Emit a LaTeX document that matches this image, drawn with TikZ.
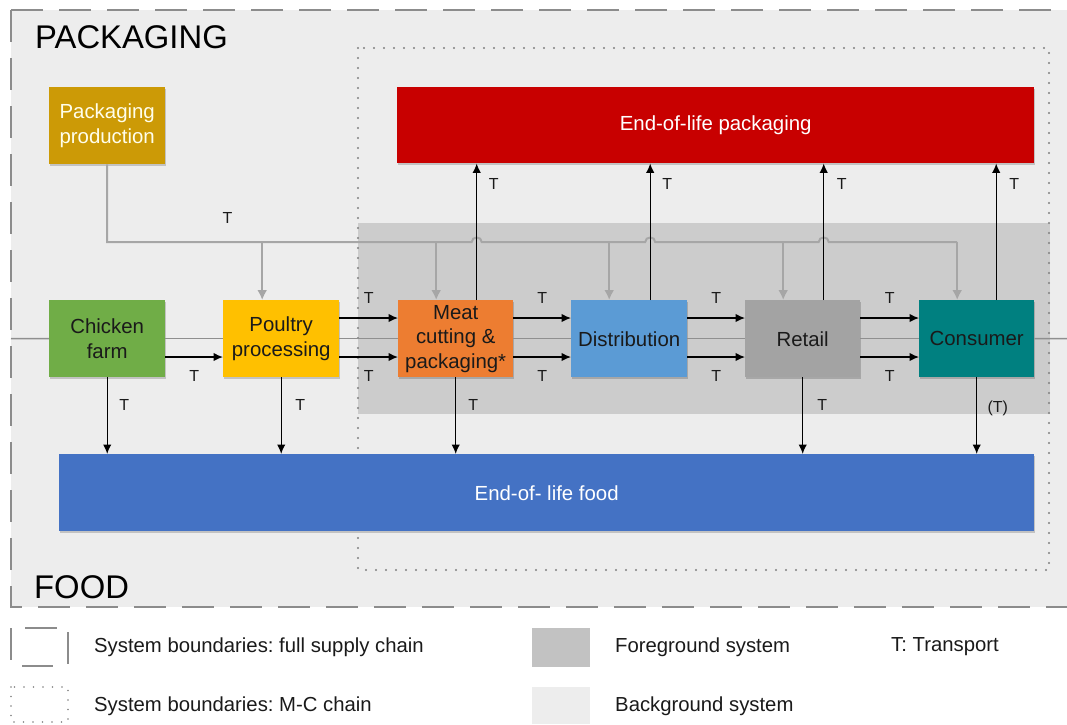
\documentclass[tikz,border=0pt]{standalone}
\usepackage{fontspec}
\setmainfont{Liberation Sans}
\usetikzlibrary{arrows.meta,calc,shadows}
\frenchspacing

\definecolor{bgsys}{HTML}{EDEDED}
\definecolor{fgsys}{HTML}{CCCCCC}
\definecolor{bound}{HTML}{8C8C8C}
\definecolor{dots}{HTML}{808080}
\definecolor{feed}{HTML}{A6A6A6}
\definecolor{midgray}{HTML}{8F8F8F}
\definecolor{pkgprod}{HTML}{CC9A06}
\definecolor{farm}{HTML}{70AD47}
\definecolor{poultryc}{HTML}{FFC000}
\definecolor{meatc}{HTML}{ED7D31}
\definecolor{distc}{HTML}{5B9BD5}
\definecolor{retailc}{HTML}{A3A3A3}
\definecolor{consc}{HTML}{008080}
\definecolor{eolpk}{HTML}{C80000}
\definecolor{eolfd}{HTML}{4472C4}
\definecolor{ink}{HTML}{1A1A1A}

\begin{document}
\begin{tikzpicture}[x=1pt,y=-1pt,
  stage/.style={rectangle, draw=none, anchor=north west, inner sep=2pt,
    minimum width=116pt, minimum height=77pt, align=center, text=ink,
    font=\fontsize{20.4}{24.5}\selectfont,
    drop shadow={shadow xshift=1pt,shadow yshift=-1.5pt,opacity=0.18,fill=black}},
  sink/.style={stage, minimum height=76pt, text=white},
  tlab/.style={inner sep=0pt, text=ink, font=\fontsize{16}{16}\selectfont},
  flow/.style={draw=black, line width=1.4pt, -{Latex[length=9.5pt,width=8.5pt]}},
  feedline/.style={draw=feed, line width=2pt},
  feedarr/.style={draw=feed, line width=2pt, -{Latex[length=10pt,width=10pt]}},
  midline/.style={draw=midgray, line width=1.5pt},
  fullbound/.style={draw=bound, line width=2.2pt, dash pattern=on 32pt off 16pt},
  mcbound/.style={draw=dots, line width=2.2pt, line cap=round, dash pattern=on 0pt off 10pt},
  legtext/.style={anchor=west, inner sep=0pt, text=ink, font=\fontsize{20.3}{24}\selectfont},
  title/.style={anchor=base west, inner sep=0pt, text=black, font=\fontsize{32.8}{33}\selectfont}
]
\useasboundingbox (0,0) rectangle (1067,724);

% background and foreground systems
\fill[bgsys] (11,10) rectangle (1067,607);
\fill[fgsys] (358,223) rectangle (1050,414);

% system boundaries
\draw[fullbound] (11,10) -- (1067,10);
\draw[fullbound] (11,10) -- (11,607) -- (1067,607);
\draw[mcbound] (358,48) rectangle (1049,570);

\node[title] (pk) at (35,48) {PACKAGING};
\node[title] (fd) at (34,598) {FOOD};

% process stages
\node[stage, fill=pkgprod, text=white!92!yellow] (pprod) at (49,87) {Packaging\\production};
\node[sink, fill=eolpk, minimum width=637pt] (eolp) at (397,87) {End-of-life packaging};

\node[stage, fill=farm] (farm) at (49,300) {Chicken\\farm};
\node[stage, fill=poultryc] (poul) at (223,300) {Poultry\\processing};
\node[stage, fill=meatc, minimum width=115pt] (meat) at (398,300) {Meat\\cutting \&\\packaging*};
\node[stage, fill=distc] (dist) at (571,300) {Distribution};
\node[stage, fill=retailc, minimum width=115pt] (ret) at (745,300) {Retail};
\node[stage, fill=consc, minimum width=115pt] (cons) at (919,300) {Consumer};

\node[sink, fill=eolfd, minimum width=975pt, minimum height=77pt] (eolf) at (59,454) {End-of- life food};

% reference heights for the flows
\coordinate (bus) at (0,242);
\coordinate (yU) at (0,318);
\coordinate (yL) at (0,357);
\coordinate (lin) at (11,338.5);
\coordinate (rout) at (1067,338.5);

% main chain (grey centre line)
\draw[midline] (lin) -- (farm.west);
\draw[midline] (farm.east) -- (poul.west);
\draw[midline] (poul.east) -- (meat.west);
\draw[midline] (meat.east) -- (dist.west);
\draw[midline] (dist.east) -- (ret.west);
\draw[midline] (ret.east) -- (cons.west);
\draw[midline] (cons.east) -- (rout);

% packaging supply feed points and packaging end-of-life risers
\coordinate (g1) at ([xshift=-19pt]poul.north);
\coordinate (g2) at ([xshift=-19.5pt]meat.north);
\coordinate (g3) at ([xshift=-20pt]dist.north);
\coordinate (g4) at ([xshift=-19.5pt]ret.north);
\coordinate (g5) at ([xshift=-19.5pt]cons.north);
\coordinate (u1) at ([xshift=21pt]meat.north);
\coordinate (u2) at ([xshift=21pt]dist.north);
\coordinate (u3) at ([xshift=21pt]ret.north);
\coordinate (u4) at ([xshift=19.5pt]cons.north);

\coordinate (h1) at (u1 |- bus);
\coordinate (h2) at (u2 |- bus);
\coordinate (h3) at (u3 |- bus);

% packaging supply bus with line hops
\draw[feedline] (pprod.south) -- (pprod.south |- bus)
  -- node[tlab, pos=0.33, yshift=24pt] {T} ([xshift=-5pt]h1)
  .. controls +(0,-6) and +(0,-6) .. ([xshift=5pt]h1)
  -- ([xshift=-5pt]h2)
  .. controls +(0,-6) and +(0,-6) .. ([xshift=5pt]h2)
  -- ([xshift=-5pt]h3)
  .. controls +(0,-6) and +(0,-6) .. ([xshift=5pt]h3)
  -- (g5 |- bus);
\draw[feedarr] (g1 |- bus) -- (g1);
\draw[feedarr] (g2 |- bus) -- (g2);
\draw[feedarr] (g3 |- bus) -- (g3);
\draw[feedarr] (g4 |- bus) -- (g4);
\draw[feedarr] (g5 |- bus) -- (g5);

% transport along the chain
\draw[flow] (farm.east |- yL) -- node[tlab, yshift=-19pt] {T} (poul.west |- yL);
\draw[flow] (poul.east |- yU) -- node[tlab, yshift=20pt] {T} (meat.west |- yU);
\draw[flow] (poul.east |- yL) -- node[tlab, yshift=-19pt] {T} (meat.west |- yL);
\draw[flow] (meat.east |- yU) -- node[tlab, yshift=20pt] {T} (dist.west |- yU);
\draw[flow] (meat.east |- yL) -- node[tlab, yshift=-19pt] {T} (dist.west |- yL);
\draw[flow] (dist.east |- yU) -- node[tlab, yshift=20pt] {T} (ret.west |- yU);
\draw[flow] (dist.east |- yL) -- node[tlab, yshift=-19pt] {T} (ret.west |- yL);
\draw[flow] (ret.east |- yU) -- node[tlab, yshift=20pt] {T} (cons.west |- yU);
\draw[flow] (ret.east |- yL) -- node[tlab, yshift=-19pt] {T} (cons.west |- yL);

% to end-of-life packaging
\draw[flow] (u1) -- node[tlab, pos=0.85, xshift=17pt] {T} (u1 |- eolp.south);
\draw[flow] (u2) -- node[tlab, pos=0.85, xshift=17pt] {T} (u2 |- eolp.south);
\draw[flow] (u3) -- node[tlab, pos=0.85, xshift=18pt] {T} (u3 |- eolp.south);
\draw[flow] (u4) -- node[tlab, pos=0.85, xshift=18pt] {T} (u4 |- eolp.south);

% to end-of-life food
\draw[flow] (farm.south) -- node[tlab, pos=0.36, xshift=17pt] {T} (farm.south |- eolf.north);
\draw[flow] (poul.south) -- node[tlab, pos=0.36, xshift=19pt] {T} (poul.south |- eolf.north);
\draw[flow] (meat.south) -- node[tlab, pos=0.36, xshift=17.5pt] {T} (meat.south |- eolf.north);
\draw[flow] (ret.south) -- node[tlab, pos=0.36, xshift=19.5pt] {T} (ret.south |- eolf.north);
\draw[flow] (cons.south) -- node[tlab, pos=0.40, xshift=21pt] {(T)} (cons.south |- eolf.north);

% legend
\draw[draw=bound, line width=2pt] (11,628) -- (11,660);
\draw[draw=bound, line width=2pt] (25,628) -- (57,628);
\draw[draw=bound, line width=2pt] (68,632) -- (68,664);
\draw[draw=bound, line width=2pt] (22,666) -- (53,666);
\node[legtext] (lfull) at (94,647) {System boundaries: full supply chain};

\draw[draw=dots, line width=1.8pt, line cap=round, dash pattern=on 0pt off 9.5pt] (11,687) rectangle (68,722);
\node[legtext] (lmc) at (94,706) {System boundaries: M-C chain};

\fill[fgsys!95!black] (532,628) rectangle (590,667);
\node[legtext] (lfg) at (615,647) {Foreground system};
\fill[bgsys] (532,687) rectangle (590,724);
\node[legtext] (lbg) at (615,706) {Background system};

\node[legtext] (ltr) at (891,647) {T: Transport};
\end{tikzpicture}
\end{document}
